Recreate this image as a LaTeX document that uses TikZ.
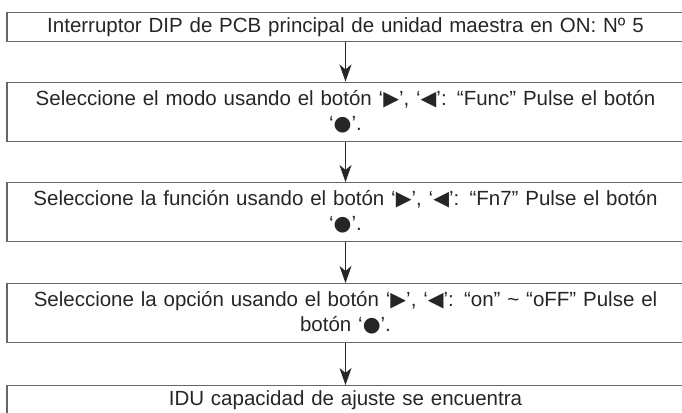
\documentclass[tikz,border=0pt]{standalone}
\usepackage{fontspec}
\setmainfont{Liberation Sans}
\newfontfamily\symfont{DejaVu Sans}
\usetikzlibrary{arrows.meta}
\tikzset{
  stepbox/.style={draw=black!60, line width=1.2pt, rectangle, minimum width=677pt, text width=672pt, align=center, inner sep=0pt, text=black!85, font=\fontsize{20.5}{25}\selectfont},
  onebox/.style={stepbox, minimum height=29pt},
  twobox/.style={stepbox, minimum height=59pt},
  arrow/.style={-{Stealth[length=17pt,width=12pt,inset=5pt]}, line width=0.9pt, black!85}
}
\newcommand{\btnder}{{\symfont\char"25B6}}
\newcommand{\btnizq}{{\symfont\char"25C0}}
\newcommand{\btnpul}{{\symfont\char"25CF}}

\begin{document}
\begin{tikzpicture}[x=1pt,y=1pt]
  \useasboundingbox (0,0) rectangle (682,-412);
  \node[onebox, anchor=north] (dip) at (345.5,-12) {Interruptor DIP de PCB principal de unidad maestra en ON: Nº 5};
  \node[twobox, anchor=north] (modo) at (345.5,-81.5) {Seleccione el modo usando el botón ‘\btnder’, ‘\btnizq’: “Func” Pulse el botón\\ ‘\btnpul’.};
  \node[twobox, anchor=north] (func) at (345.5,-182) {Seleccione la función usando el botón ‘\btnder’, ‘\btnizq’: “Fn7” Pulse el botón\\ ‘\btnpul’.};
  \node[twobox, anchor=north] (opc) at (345.5,-283) {Seleccione la opción usando el botón ‘\btnder’, ‘\btnizq’: “on” \textasciitilde{} “oFF” Pulse el\\ botón ‘\btnpul’.};
  \node[onebox, anchor=north] (idu) at (345.5,-385) {IDU capacidad de ajuste se encuentra};
  \draw[arrow] (dip) -- (modo);
  \draw[arrow] (modo) -- (func);
  \draw[arrow] (func) -- (opc);
  \draw[arrow] (opc) -- (idu);
\end{tikzpicture}
\end{document}
